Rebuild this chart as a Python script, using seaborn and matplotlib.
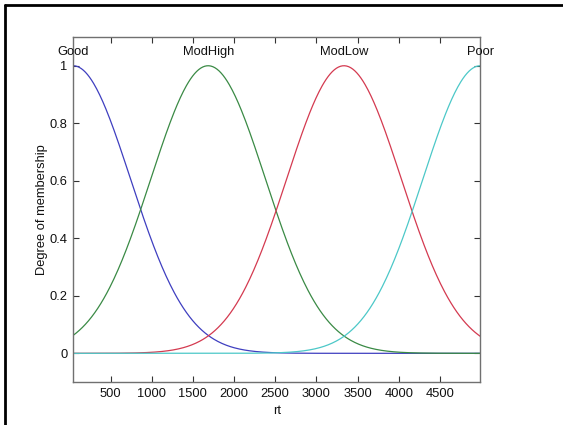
import numpy as np
import pandas as pd
import matplotlib
matplotlib.use("Agg")
import matplotlib.pyplot as plt
import seaborn as sns
from matplotlib.lines import Line2D

# Membership functions (gaussian): names, centers, sigma
mf_names = ["Good", "ModHigh", "ModLow", "Poor"]
mf_centers = [46, 1685, 3335, 4990]
mf_sigmas = [696, 696, 696, 696]
mf_colors = ["#3f3fc0", "#3a8a45", "#d43a50", "#4cc8c8"]
x_range = [46, 4990]
x_ticks = [500, 1000, 1500, 2000, 2500, 3000, 3500, 4000, 4500]
y_ticks = [0, 0.2, 0.4, 0.6, 0.8, 1]
y_tick_labels = ["0", "0.2", "0.4", "0.6", "0.8", "1"]

sns.set_style("white")
plt.rcParams["font.family"] = ["Liberation Sans", "DejaVu Sans"]

xs = np.linspace(x_range[0], x_range[1], 400)
frames = []
for name, c, s in zip(mf_names, mf_centers, mf_sigmas):
    frames.append(pd.DataFrame({"rt": xs, "mu": np.exp(-(xs - c) ** 2 / (2 * s ** 2)), "mf": name}))
df = pd.concat(frames, ignore_index=True)

fs = 9.3
fig = plt.figure(figsize=(5.63, 4.25), dpi=100)
ax = fig.add_axes([0.130, 0.101, 0.723, 0.812])
sns.lineplot(data=df, x="rt", y="mu", hue="mf", palette=dict(zip(mf_names, mf_colors)),
             ax=ax, legend=False, linewidth=0.9)

for name, c in zip(mf_names, mf_centers):
    ax.text(c, 1.048, name, ha="center", va="center", fontsize=fs, color="#111111")

ax.set_xlim(x_range)
ax.set_ylim(-0.1, 1.1)
ax.set_xticks(x_ticks)
ax.set_xticklabels([str(t) for t in x_ticks])
ax.set_yticks(y_ticks)
ax.set_yticklabels(y_tick_labels)
ax.tick_params(direction="in", length=4, width=0.8, color="#333333", labelsize=fs,
               top=True, right=True, bottom=True, left=True, pad=4, labelcolor="#111111")
for sp in ax.spines.values():
    sp.set_color("#707070")
    sp.set_linewidth(1.0)
ax.set_xlabel("rt", fontsize=fs, color="#111111")
ax.set_ylabel("Degree of membership", fontsize=fs, color="#111111")
ax.xaxis.set_label_coords(0.5, -0.066)
ax.yaxis.set_label_coords(-0.062, 0.5)

# black frame visible on left and top
fig.add_artist(Line2D([5 / 563, 5 / 563], [0, 1 - 5 / 425], transform=fig.transFigure, color="black", linewidth=2))
fig.add_artist(Line2D([5 / 563, 1], [1 - 5 / 425, 1 - 5 / 425], transform=fig.transFigure, color="black", linewidth=2))

fig.savefig("out.png", dpi=100)
